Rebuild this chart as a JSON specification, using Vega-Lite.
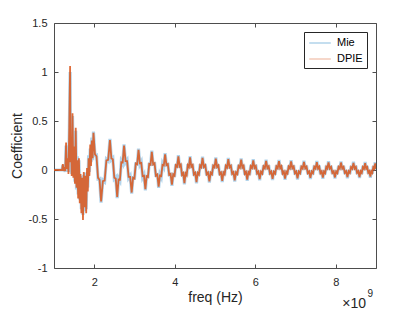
{
  "$schema": "https://vega.github.io/schema/vega-lite/v6.json",
  "width": 322,
  "height": 245,
  "autosize": {"type": "none"},
  "padding": {"left": 54, "top": 23, "right": 39, "bottom": 44},
  "background": "white",
  "config": {"view": {"stroke": null}, "font": "Liberation Sans"},
  "data": {"values": [
    {"f":1.00,"dpie":0,"mie":0},{"f":1.20,"dpie":0,"mie":0},{"f":1.22,"dpie":0.06,"mie":0.05},{"f":1.24,"dpie":-0.01,"mie":0.0},
    {"f":1.26,"dpie":0.03,"mie":0.04},{"f":1.28,"dpie":-0.01,"mie":-0.02},{"f":1.30,"dpie":0.28,"mie":0.25},{"f":1.32,"dpie":0.01,"mie":0.03},
    {"f":1.34,"dpie":0.12,"mie":0.10},{"f":1.36,"dpie":-0.04,"mie":-0.02},{"f":1.38,"dpie":0.45,"mie":0.40},{"f":1.40,"dpie":1.06,"mie":1.0},
    {"f":1.41,"dpie":0.08,"mie":0.1},{"f":1.43,"dpie":0.18,"mie":0.16},{"f":1.44,"dpie":-0.06,"mie":-0.04},{"f":1.46,"dpie":0.58,"mie":0.55},
    {"f":1.48,"dpie":-0.08,"mie":-0.05},{"f":1.50,"dpie":0.24,"mie":0.20},{"f":1.52,"dpie":-0.14,"mie":-0.12},{"f":1.54,"dpie":0.43,"mie":0.40},
    {"f":1.56,"dpie":-0.18,"mie":-0.2},{"f":1.58,"dpie":0.10,"mie":0.14},{"f":1.60,"dpie":-0.29,"mie":-0.25},{"f":1.62,"dpie":0.12,"mie":0.1},
    {"f":1.64,"dpie":-0.34,"mie":-0.30},{"f":1.66,"dpie":-0.04,"mie":-0.06},{"f":1.68,"dpie":-0.44,"mie":-0.40},{"f":1.70,"dpie":-0.08,"mie":-0.12},
    {"f":1.72,"dpie":-0.51,"mie":-0.46},{"f":1.74,"dpie":-0.02,"mie":-0.05},{"f":1.76,"dpie":-0.38,"mie":-0.42},{"f":1.78,"dpie":-0.06,"mie":-0.03},
    {"f":1.80,"dpie":-0.44,"mie":-0.40},{"f":1.82,"dpie":0.02,"mie":-0.02},{"f":1.84,"dpie":-0.22,"mie":-0.18},{"f":1.86,"dpie":0.12,"mie":0.15},
    {"f":1.88,"dpie":-0.06,"mie":-0.02},{"f":1.90,"dpie":0.26,"mie":0.22},{"f":1.92,"dpie":0.04,"mie":0.08},{"f":1.94,"dpie":0.30,"mie":0.33},
    {"f":1.96,"dpie":0.12,"mie":0.10},
    {"f":1.98,"dpie":0.38,"mie":0.392},{"f":2.018,"dpie":0.16,"mie":0.148},{"f":2.056,"dpie":0.14,"mie":0.152},{"f":2.094,"dpie":-0.08,"mie":-0.092},{"f":2.132,"dpie":-0.10,"mie":-0.088},
    {"f":2.17,"dpie":-0.32,"mie":-0.332},{"f":2.214,"dpie":-0.114,"mie":-0.102},{"f":2.258,"dpie":-0.108,"mie":-0.12},{"f":2.302,"dpie":0.098,"mie":0.11},{"f":2.346,"dpie":0.104,"mie":0.092},
    {"f":2.39,"dpie":0.305,"mie":0.317},{"f":2.426,"dpie":0.117,"mie":0.105},{"f":2.462,"dpie":0.109,"mie":0.121},{"f":2.498,"dpie":-0.079,"mie":-0.091},{"f":2.534,"dpie":-0.087,"mie":-0.075},
    {"f":2.57,"dpie":-0.275,"mie":-0.287},{"f":2.604,"dpie":-0.097,"mie":-0.085},{"f":2.638,"dpie":-0.099,"mie":-0.111},{"f":2.672,"dpie":0.079,"mie":0.091},{"f":2.706,"dpie":0.077,"mie":0.065},
    {"f":2.74,"dpie":0.25,"mie":0.262},{"f":2.778,"dpie":0.09,"mie":0.078},{"f":2.816,"dpie":0.09,"mie":0.102},{"f":2.854,"dpie":-0.07,"mie":-0.082},{"f":2.892,"dpie":-0.07,"mie":-0.058},
    {"f":2.93,"dpie":-0.23,"mie":-0.242},{"f":2.964,"dpie":-0.078,"mie":-0.066},{"f":2.998,"dpie":-0.086,"mie":-0.098},{"f":3.032,"dpie":0.066,"mie":0.078},{"f":3.066,"dpie":0.058,"mie":0.046},
    {"f":3.10,"dpie":0.205,"mie":0.217},{"f":3.134,"dpie":0.069,"mie":0.057},{"f":3.168,"dpie":0.073,"mie":0.085},{"f":3.202,"dpie":-0.063,"mie":-0.075},{"f":3.236,"dpie":-0.059,"mie":-0.047},
    {"f":3.27,"dpie":-0.195,"mie":-0.207},{"f":3.302,"dpie":-0.063,"mie":-0.051},{"f":3.334,"dpie":-0.071,"mie":-0.083},{"f":3.366,"dpie":0.061,"mie":0.073},{"f":3.398,"dpie":0.053,"mie":0.041},
    {"f":3.43,"dpie":0.185,"mie":0.197},{"f":3.464,"dpie":0.057,"mie":0.045},{"f":3.498,"dpie":0.069,"mie":0.081},{"f":3.532,"dpie":-0.059,"mie":-0.071},{"f":3.566,"dpie":-0.047,"mie":-0.035},
    {"f":3.60,"dpie":-0.17,"mie":-0.182},{"f":3.632,"dpie":-0.056,"mie":-0.044},{"f":3.664,"dpie":-0.062,"mie":-0.074},{"f":3.696,"dpie":0.052,"mie":0.064},{"f":3.728,"dpie":0.046,"mie":0.034},
    {"f":3.76,"dpie":0.16,"mie":0.172},{"f":3.794,"dpie":0.05,"mie":0.038},{"f":3.828,"dpie":0.06,"mie":0.072},{"f":3.862,"dpie":-0.05,"mie":-0.062},{"f":3.896,"dpie":-0.04,"mie":-0.028},
    {"f":3.93,"dpie":-0.15,"mie":-0.162},{"f":3.962,"dpie":-0.044,"mie":-0.032},{"f":3.994,"dpie":-0.058,"mie":-0.07},{"f":4.026,"dpie":0.048,"mie":0.06},{"f":4.058,"dpie":0.034,"mie":0.022},
    {"f":4.09,"dpie":0.14,"mie":0.152},{"f":4.12,"dpie":0.037,"mie":0.025},{"f":4.15,"dpie":0.054,"mie":0.066},{"f":4.18,"dpie":-0.049,"mie":-0.061},{"f":4.21,"dpie":-0.032,"mie":-0.02},
    {"f":4.24,"dpie":-0.135,"mie":-0.147},{"f":4.268,"dpie":-0.034,"mie":-0.022},{"f":4.296,"dpie":-0.053,"mie":-0.065},{"f":4.324,"dpie":0.048,"mie":0.06},{"f":4.352,"dpie":0.029,"mie":0.017},
    {"f":4.38,"dpie":0.128,"mie":0.14},{"f":4.412,"dpie":0.033,"mie":0.021},{"f":4.444,"dpie":0.05,"mie":0.062},{"f":4.476,"dpie":-0.045,"mie":-0.057},{"f":4.508,"dpie":-0.028,"mie":-0.016},
    {"f":4.54,"dpie":-0.123,"mie":-0.135},{"f":4.57,"dpie":-0.029,"mie":-0.017},{"f":4.60,"dpie":-0.047,"mie":-0.059},{"f":4.63,"dpie":0.047,"mie":0.059},{"f":4.66,"dpie":0.029,"mie":0.017},
    {"f":4.69,"dpie":0.123,"mie":0.135},{"f":4.724,"dpie":0.03,"mie":0.018},{"f":4.758,"dpie":0.049,"mie":0.061},{"f":4.792,"dpie":-0.044,"mie":-0.056},{"f":4.826,"dpie":-0.025,"mie":-0.013},
    {"f":4.86,"dpie":-0.116,"mie":-0.128},{"f":4.892,"dpie":-0.028,"mie":-0.016},{"f":4.924,"dpie":-0.044,"mie":-0.056},{"f":4.956,"dpie":0.044,"mie":0.056},{"f":4.988,"dpie":0.028,"mie":0.016},
    {"f":5.02,"dpie":0.116,"mie":0.128},{"f":5.052,"dpie":0.029,"mie":0.017},{"f":5.084,"dpie":0.046,"mie":0.058},{"f":5.116,"dpie":-0.041,"mie":-0.053},{"f":5.148,"dpie":-0.024,"mie":-0.012},
    {"f":5.18,"dpie":-0.111,"mie":-0.123},{"f":5.21,"dpie":-0.025,"mie":-0.013},{"f":5.24,"dpie":-0.043,"mie":-0.055},{"f":5.27,"dpie":0.043,"mie":0.055},{"f":5.30,"dpie":0.025,"mie":0.013},
    {"f":5.33,"dpie":0.11,"mie":0.122},{"f":5.362,"dpie":0.027,"mie":0.015},{"f":5.394,"dpie":0.044,"mie":0.056},{"f":5.426,"dpie":-0.039,"mie":-0.051},{"f":5.458,"dpie":-0.022,"mie":-0.01},
    {"f":5.49,"dpie":-0.105,"mie":-0.117},{"f":5.522,"dpie":-0.023,"mie":-0.011},{"f":5.554,"dpie":-0.041,"mie":-0.053},{"f":5.586,"dpie":0.041,"mie":0.053},{"f":5.618,"dpie":0.023,"mie":0.011},
    {"f":5.65,"dpie":0.105,"mie":0.117},{"f":5.68,"dpie":0.024,"mie":0.012},{"f":5.71,"dpie":0.043,"mie":0.055},{"f":5.74,"dpie":-0.038,"mie":-0.05},{"f":5.77,"dpie":-0.019,"mie":-0.007},
    {"f":5.80,"dpie":-0.099,"mie":-0.111},{"f":5.83,"dpie":-0.021,"mie":-0.009},{"f":5.86,"dpie":-0.039,"mie":-0.051},{"f":5.89,"dpie":0.039,"mie":0.051},{"f":5.92,"dpie":0.021,"mie":0.009},
    {"f":5.95,"dpie":0.099,"mie":0.111},{"f":5.982,"dpie":0.022,"mie":0.01},{"f":6.014,"dpie":0.041,"mie":0.053},{"f":6.046,"dpie":-0.036,"mie":-0.048},{"f":6.078,"dpie":-0.017,"mie":-0.005},
    {"f":6.11,"dpie":-0.094,"mie":-0.106},{"f":6.142,"dpie":-0.018,"mie":-0.006},{"f":6.174,"dpie":-0.038,"mie":-0.05},{"f":6.206,"dpie":0.038,"mie":0.05},{"f":6.238,"dpie":0.018,"mie":0.006},
    {"f":6.27,"dpie":0.093,"mie":0.105},{"f":6.302,"dpie":0.019,"mie":0.007},{"f":6.334,"dpie":0.038,"mie":0.05},{"f":6.366,"dpie":-0.036,"mie":-0.048},{"f":6.398,"dpie":-0.017,"mie":-0.005},
    {"f":6.43,"dpie":-0.091,"mie":-0.103},{"f":6.462,"dpie":-0.018,"mie":-0.006},{"f":6.494,"dpie":-0.037,"mie":-0.049},{"f":6.526,"dpie":0.037,"mie":0.049},{"f":6.558,"dpie":0.018,"mie":0.006},
    {"f":6.59,"dpie":0.091,"mie":0.103},{"f":6.62,"dpie":0.018,"mie":0.006},{"f":6.65,"dpie":0.038,"mie":0.05},{"f":6.68,"dpie":-0.035,"mie":-0.047},{"f":6.71,"dpie":-0.015,"mie":-0.003},
    {"f":6.74,"dpie":-0.087,"mie":-0.099},{"f":6.77,"dpie":-0.017,"mie":-0.005},{"f":6.80,"dpie":-0.035,"mie":-0.047},{"f":6.83,"dpie":0.035,"mie":0.047},{"f":6.86,"dpie":0.017,"mie":0.005},
    {"f":6.89,"dpie":0.087,"mie":0.099},{"f":6.922,"dpie":0.018,"mie":0.006},{"f":6.954,"dpie":0.036,"mie":0.048},{"f":6.986,"dpie":-0.033,"mie":-0.045},{"f":7.018,"dpie":-0.015,"mie":-0.003},
    {"f":7.05,"dpie":-0.084,"mie":-0.096},{"f":7.082,"dpie":-0.015,"mie":-0.003},{"f":7.114,"dpie":-0.034,"mie":-0.046},{"f":7.146,"dpie":0.034,"mie":0.046},{"f":7.178,"dpie":0.015,"mie":0.003},
    {"f":7.21,"dpie":0.083,"mie":0.095},{"f":7.242,"dpie":0.017,"mie":0.005},{"f":7.274,"dpie":0.034,"mie":0.046},{"f":7.306,"dpie":-0.032,"mie":-0.044},{"f":7.338,"dpie":-0.015,"mie":-0.003},
    {"f":7.37,"dpie":-0.081,"mie":-0.093},{"f":7.402,"dpie":-0.015,"mie":-0.003},{"f":7.434,"dpie":-0.033,"mie":-0.045},{"f":7.466,"dpie":0.033,"mie":0.045},{"f":7.498,"dpie":0.015,"mie":0.003},
    {"f":7.53,"dpie":0.081,"mie":0.093},{"f":7.56,"dpie":0.015,"mie":0.003},{"f":7.59,"dpie":0.034,"mie":0.046},{"f":7.62,"dpie":-0.032,"mie":-0.044},{"f":7.65,"dpie":-0.013,"mie":-0.001},
    {"f":7.68,"dpie":-0.078,"mie":-0.09},{"f":7.708,"dpie":-0.015,"mie":-0.003},{"f":7.736,"dpie":-0.032,"mie":-0.044},{"f":7.764,"dpie":0.032,"mie":0.044},{"f":7.792,"dpie":0.015,"mie":0.003},
    {"f":7.82,"dpie":0.078,"mie":0.09},{"f":7.852,"dpie":0.015,"mie":0.003},{"f":7.884,"dpie":0.032,"mie":0.044},{"f":7.916,"dpie":-0.03,"mie":-0.042},{"f":7.948,"dpie":-0.013,"mie":-0.001},
    {"f":7.98,"dpie":-0.076,"mie":-0.088},{"f":8.01,"dpie":-0.014,"mie":-0.002},{"f":8.04,"dpie":-0.031,"mie":-0.043},{"f":8.07,"dpie":0.031,"mie":0.043},{"f":8.10,"dpie":0.014,"mie":0.002},
    {"f":8.13,"dpie":0.076,"mie":0.088},{"f":8.162,"dpie":0.014,"mie":0.002},{"f":8.194,"dpie":0.032,"mie":0.044},{"f":8.226,"dpie":-0.03,"mie":-0.042},{"f":8.258,"dpie":-0.012,"mie":0},
    {"f":8.29,"dpie":-0.073,"mie":-0.085},{"f":8.32,"dpie":-0.013,"mie":-0.001},{"f":8.35,"dpie":-0.03,"mie":-0.042},{"f":8.38,"dpie":0.03,"mie":0.042},{"f":8.41,"dpie":0.013,"mie":0.001},
    {"f":8.44,"dpie":0.073,"mie":0.085},{"f":8.47,"dpie":0.014,"mie":0.002},{"f":8.50,"dpie":0.031,"mie":0.043},{"f":8.53,"dpie":-0.029,"mie":-0.041},{"f":8.56,"dpie":-0.012,"mie":0},
    {"f":8.59,"dpie":-0.071,"mie":-0.083},{"f":8.618,"dpie":-0.012,"mie":0},{"f":8.646,"dpie":-0.029,"mie":-0.041},{"f":8.674,"dpie":0.029,"mie":0.041},{"f":8.702,"dpie":0.012,"mie":0},
    {"f":8.73,"dpie":0.07,"mie":0.082},{"f":8.756,"dpie":0.014,"mie":0.002},{"f":8.782,"dpie":0.029,"mie":0.041},{"f":8.808,"dpie":-0.027,"mie":-0.039},{"f":8.834,"dpie":-0.012,"mie":0},
    {"f":8.86,"dpie":-0.068,"mie":-0.08},{"f":8.884,"dpie":-0.012,"mie":0},{"f":8.908,"dpie":-0.028,"mie":-0.04},{"f":8.932,"dpie":0.028,"mie":0.04},{"f":8.956,"dpie":0.012,"mie":0},
    {"f":8.98,"dpie":0.068,"mie":0.08},{"f":9.00,"dpie":0.012,"mie":0}
  ]},
  "layer": [
    {
      "mark": {"type": "line", "strokeWidth": 3.2, "opacity": 0.3, "clip": true},
      "encoding": {
        "x": {"field": "f", "type": "quantitative",
              "scale": {"domain": [1, 9], "nice": false, "zero": false},
              "axis": {"orient": "bottom", "values": [2, 4, 6, 8], "tickSize": -4, "labelPadding": 12, "grid": false,
                       "title": "freq (Hz)", "titlePadding": 3, "labelFontSize": 11, "titleFontSize": 14, "titleFontWeight": "normal",
                       "domainColor": "#4d4d4d", "tickColor": "#4d4d4d", "labelColor": "#262626", "titleColor": "#262626"}},
        "y": {"field": "mie", "type": "quantitative",
              "scale": {"domain": [-1, 1.5], "nice": false, "zero": false},
              "axis": {"orient": "left", "values": [-1, -0.5, 0, 0.5, 1, 1.5], "labelExpr": "'' + datum.value", "tickSize": -4, "labelPadding": 11, "grid": false,
                       "title": "Coefficient", "titlePadding": 4, "labelFontSize": 11, "titleFontSize": 14, "titleFontWeight": "normal",
                       "domainColor": "#4d4d4d", "tickColor": "#4d4d4d", "labelColor": "#262626", "titleColor": "#262626"}},
        "color": {"datum": "Mie", "type": "nominal",
                  "scale": {"domain": ["Mie", "DPIE"], "range": ["#0072BD", "#D95319"]},
                  "legend": {"title": null, "orient": "top-right", "offset": 9, "strokeColor": "#262626", "fillColor": "white", "padding": 4,
                             "symbolType": "M-1.8,0H1.8", "symbolSize": 144, "symbolStrokeWidth": 1.5, "symbolOffset": 5,
                             "labelFontSize": 11, "labelColor": "#000000", "rowPadding": 4, "labelOffset": 10,
                             "encode": {"symbols": {"update": {"opacity": {"value": 0.4}, "strokeWidth": {"value": 1.5}}}}}}
      }
    },
    {
      "mark": {"type": "line", "strokeWidth": 1.8, "opacity": 0.85, "clip": true},
      "encoding": {
        "x": {"field": "f", "type": "quantitative",
              "axis": {"orient": "top", "values": [2, 4, 6, 8], "tickSize": -4, "labels": false, "title": null, "grid": false,
                       "domainColor": "#4d4d4d", "tickColor": "#4d4d4d"}},
        "y": {"field": "dpie", "type": "quantitative",
              "axis": {"orient": "right", "values": [-1, -0.5, 0, 0.5, 1, 1.5], "tickSize": -4, "labels": false, "title": null, "grid": false,
                       "domainColor": "#4d4d4d", "tickColor": "#4d4d4d"}},
        "color": {"datum": "DPIE", "type": "nominal"}
      }
    },
    {
      "data": {"values": [{"label": "×10"}]},
      "mark": {"type": "text", "align": "right", "baseline": "alphabetic", "dx": -10, "dy": 40, "fontSize": 14, "color": "#262626"},
      "encoding": {
        "x": {"datum": 9, "type": "quantitative", "axis": null},
        "y": {"datum": -1, "type": "quantitative", "axis": null},
        "text": {"field": "label"}
      }
    },
    {
      "data": {"values": [{"label": "9"}]},
      "mark": {"type": "text", "align": "right", "baseline": "alphabetic", "dx": -3, "dy": 29, "fontSize": 10, "color": "#262626"},
      "encoding": {
        "x": {"datum": 9, "type": "quantitative", "axis": null},
        "y": {"datum": -1, "type": "quantitative", "axis": null},
        "text": {"field": "label"}
      }
    }
  ],
  "resolve": {"axis": {"x": "independent", "y": "independent"}}
}
